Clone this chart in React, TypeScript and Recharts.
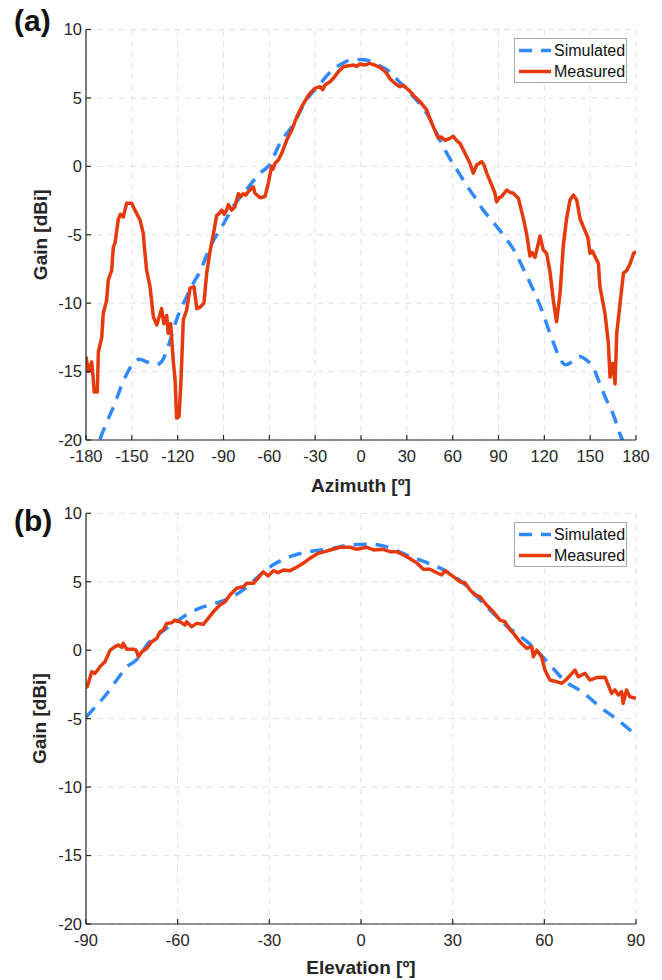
import { LineChart, Line, XAxis, YAxis, CartesianGrid, Legend, Label } from 'recharts';

const FONT = '"Liberation Sans", Arial, Helvetica, sans-serif';
const INK = '#262626';
const BLUE = '#3089ff';
const RED = '#e63a0c';
const GRID = '#dfe3e3';
const DASH = '13 9';

const seriesOrder = ['Simulated', 'Measured'];
const gainTicks = [-20, -15, -10, -5, 0, 5, 10];
const azimuthTicks = [-180, -150, -120, -90, -60, -30, 0, 30, 60, 90, 120, 150, 180];
const elevationTicks = [-90, -60, -30, 0, 30, 60, 90];

// (a) azimuth cut, [angle, gain dBi]
const azSimulated = [
  [-175, -21.5], [-171, -20], [-166, -18.6], [-161, -17.3], [-157, -16.1], [-153, -15.1],
  [-149, -14.4], [-145, -14.1], [-140, -14.3], [-134, -14.5], [-130, -14.2], [-127, -13.4],
  [-124, -12.4], [-121, -11.3], [-117, -10.2], [-114, -9.5], [-110, -8.6], [-105, -7.6],
  [-101, -6.5], [-97, -5.5], [-92, -4.6], [-88, -3.8], [-84, -3.0], [-75, -1.7], [-66, -0.5],
  [-60, 0.1], [-53, 1.7], [-44, 3.1], [-36, 4.8], [-27, 6.0], [-20, 6.9], [-14, 7.4],
  [-7, 7.75], [0, 7.8], [4, 7.75], [8, 7.6], [13, 7.3], [19, 6.9], [24, 6.3], [30, 5.6],
  [35, 5.0], [39, 4.5], [45, 3.5], [50, 2.3], [54, 1.4], [58, 0.6], [63, -0.3], [67, -1.0],
  [71, -1.7], [76, -2.5], [80, -3.2], [86, -4.0], [91, -4.7], [95, -5.3], [100, -6.1],
  [105, -7.2], [111, -8.6], [115, -9.6], [119, -10.7], [123, -12.0], [126, -12.9],
  [130, -14.0], [134, -14.5], [138, -14.3], [143, -13.9], [148, -14.2], [152, -14.7],
  [156, -15.8], [160, -16.9], [165, -18.1], [169, -19.4], [172, -20.3], [175, -21.5],
];

const azMeasured = [
  [-180, -13.9], [-178.5, -15.0], [-176.3, -14.3], [-175.5, -15.2], [-174.6, -16.5],
  [-172.6, -16.5], [-171.9, -13.55], [-169.7, -12.5], [-168.7, -10.75], [-166.5, -9.8],
  [-165.4, -8.3], [-163.2, -7.6], [-162.1, -5.9], [-161, -5.6], [-159.9, -4.7], [-158.9, -3.9],
  [-157.5, -3.5], [-155.6, -3.7], [-153.4, -2.7], [-150.1, -2.7], [-148, -3.2], [-144.7, -3.9],
  [-142.5, -4.9], [-141.8, -5.9], [-140.3, -7.6], [-138.1, -8.8], [-135.9, -11.0],
  [-133.7, -11.6], [-130.5, -10.4], [-129, -11.5], [-127.2, -10.9], [-126.2, -12.2],
  [-124.6, -11.5], [-122.9, -14.2], [-121.7, -15.6], [-120.7, -18.4], [-119.1, -18.3],
  [-117.8, -15.6], [-116.3, -11.2], [-114.1, -10.5], [-111.9, -8.9], [-109.3, -8.8],
  [-107.5, -10.4], [-105.4, -10.3], [-102.8, -10.0], [-101, -7.8], [-98.8, -6.2],
  [-96.7, -5.0], [-94.5, -3.6], [-92.5, -3.4], [-91.2, -3.2], [-89.5, -3.5], [-88, -3.2],
  [-86.8, -2.8], [-84.6, -3.2], [-82.5, -2.95], [-80.3, -2.0], [-78.5, -2.2], [-77, -2.0],
  [-75.5, -2.1], [-73.8, -1.86], [-70.5, -1.5], [-69.4, -1.97], [-66.1, -2.3], [-62.8, -2.2],
  [-60.7, -1.24], [-58.5, 0], [-57.5, -0.2], [-56.3, 0.22], [-54.1, 0.46], [-51.9, 0.95],
  [-48.6, 1.92], [-45.3, 2.65], [-42.1, 3.6], [-38.8, 4.36], [-35.6, 4.97], [-33.4, 5.34],
  [-30.1, 5.7], [-26.8, 5.82], [-25, 5.6], [-23.6, 5.94], [-20.3, 6.18], [-18.1, 6.43],
  [-15, 6.9], [-11.6, 7.28], [-8, 7.35], [-5, 7.4], [-3, 7.3], [-0.7, 7.48], [2.5, 7.4],
  [5.8, 7.53], [9, 7.4], [12.4, 7.24], [14.5, 7.05], [16.7, 6.8], [19, 6.4], [21.1, 6.18],
  [23, 6.0], [25.5, 5.82], [27.5, 5.95], [29.9, 5.7], [32, 5.5], [34.2, 5.2], [38.6, 4.72],
  [41, 4.4], [43, 4.12], [45, 3.5], [47.3, 2.9], [50.6, 2.05], [52.5, 2.15], [55, 1.9],
  [58.2, 2.05], [60.4, 2.2], [62.5, 1.9], [64.8, 1.68], [68.1, 0.95], [71.3, 0.22],
  [73.5, -0.5], [75.7, 0.1], [79, 0.34], [80.5, 0.1], [82.3, -0.5], [85.6, -1.37],
  [87.5, -1.9], [88.8, -2.6], [90.5, -2.3], [92.1, -2.2], [95.4, -1.73], [97.5, -1.9],
  [99.7, -1.97], [103, -2.34], [106.3, -3.8], [108.5, -5.0], [110.6, -6.55], [112, -6.3],
  [113.9, -6.65], [117.2, -5.1], [119.3, -6.1], [121.5, -6.36], [123.7, -7.7], [125.9, -9.8],
  [128, -11.35], [130.3, -9.3], [132.4, -5.8], [134.6, -3.8], [136.8, -2.46], [139, -2.1],
  [141.2, -2.46], [143.4, -3.85], [146.6, -4.7], [148.5, -5.2], [149.9, -6.36], [151.5, -6.2],
  [153.2, -6.6], [155.4, -7.1], [156.4, -8.8], [159.7, -10.75], [161.9, -12.9], [163, -15.4],
  [164.8, -14.4], [166.3, -15.9], [167.4, -12.2], [169.6, -10], [171.8, -7.8], [174, -7.6],
  [176.2, -7.1], [178.4, -6.36], [180, -6.25],
];

// (b) elevation cut, [angle, gain dBi]
const elSimulated = [
  [-90, -4.9], [-88, -4.4], [-84, -3.4], [-80, -2.2], [-77, -1.3], [-73, -0.6], [-70, 0.4],
  [-66, 1.2], [-61, 2.0], [-57, 2.6], [-53, 3.05], [-48, 3.4], [-43, 3.8], [-38, 4.5],
  [-33, 5.5], [-29, 6.2], [-23, 6.85], [-17, 7.2], [-10, 7.4], [-4, 7.68], [3, 7.75],
  [8, 7.58], [15, 6.95], [21, 6.45], [28, 5.75], [35, 4.6], [41, 3.2], [48, 1.7], [55, 0.5],
  [62, -1.1], [66, -2.1], [73, -3.15], [78, -4.1], [84, -5.1], [90, -6.2],
];

const elMeasured = [
  [-90, -2.7], [-89.6, -2.67], [-88.1, -1.57], [-87.1, -1.69], [-86, -1.4], [-85.4, -1.2],
  [-83.8, -0.84], [-82.1, 0.0], [-80.5, 0.26], [-79.4, 0.38], [-78.3, 0.2], [-77.8, 0.5],
  [-76.7, 0.07], [-74.5, 0.07], [-73.6, 0], [-72.8, -0.48], [-71.7, -0.11], [-70.1, 0.14],
  [-68.5, 0.62], [-66.8, 0.87], [-65.8, 1.35], [-64.7, 1.48], [-63.6, 1.96], [-62, 2.0],
  [-60.9, 2.2], [-59.3, 2.08], [-57.6, 1.84], [-57.1, 2.08], [-55.4, 1.72], [-53.8, 1.96],
  [-51.6, 1.89], [-50, 2.33], [-48.3, 2.81], [-46.2, 3.3], [-44.5, 3.54], [-42.9, 4.03],
  [-40.7, 4.52], [-38.5, 4.64], [-37.4, 4.89], [-35.2, 4.89], [-33.1, 5.42], [-32, 5.73],
  [-30.4, 5.42], [-28.7, 5.81], [-27.1, 5.66], [-25.4, 5.86], [-23.2, 5.81], [-21.1, 6.06],
  [-18.9, 6.35], [-16.7, 6.71], [-14, 7.08], [-11.8, 7.2], [-10.1, 7.32], [-6.9, 7.52],
  [-3.6, 7.52], [-1.4, 7.37], [1.9, 7.52], [4.1, 7.32], [7.3, 7.37], [9.5, 7.2], [11.7, 7.2],
  [15, 6.83], [18.2, 6.39], [20.4, 5.91], [22.6, 5.91], [24.8, 5.66], [26.4, 5.49],
  [27.5, 5.81], [30.2, 5.37], [32.4, 5.0], [34, 4.93], [35.7, 4.4], [37.3, 4.03], [38.9, 3.91],
  [41.1, 3.3], [43.3, 2.81], [45.5, 2.2], [47.1, 2.08], [48.8, 1.48], [49.9, 1.23], [52, 0.62],
  [54.2, 0.14], [55.9, 0.26], [56.4, -0.48], [57.5, 0.0], [59.1, -0.48], [60.2, -1.45],
  [61.8, -2.18], [64, -2.3], [65.7, -2.42], [67.3, -2.12], [70, -1.45], [71.1, -1.94],
  [73.3, -1.69], [74.9, -2.18], [77.1, -2.0], [79.9, -1.98], [80.9, -2.54], [82, -3.15],
  [83.1, -2.9], [84.2, -3.27], [85.3, -3.03], [85.8, -3.88], [86.9, -2.9], [88, -3.4],
  [90, -3.51],
];

const toPoints = (arr: number[][]) => arr.map(([x, y]) => ({ x, y }));

const tickStyle = { fill: INK, fontSize: 16.5, fontFamily: FONT };

function renderLegend(props: any) {
  const items = [...(props.payload || [])].sort(
    (a: any, b: any) => seriesOrder.indexOf(a.value) - seriesOrder.indexOf(b.value)
  );
  return (
    <div
      style={{
        width: 113,
        height: 45,
        boxSizing: 'border-box',
        border: '1px solid #a9a9a9',
        background: '#fff',
        paddingTop: 1,
        fontFamily: FONT,
        fontSize: 16,
        color: '#111',
      }}
    >
      {items.map((entry: any) => (
        <div key={entry.value} style={{ display: 'flex', alignItems: 'center', height: 21, lineHeight: '21px' }}>
          <svg width={38} height={21} style={{ display: 'block' }}>
            <line
              x1={4}
              x2={36}
              y1={10.5}
              y2={10.5}
              stroke={entry.color}
              strokeWidth={3.5}
              strokeDasharray={entry.payload?.strokeDasharray}
            />
          </svg>
          <span style={{ marginLeft: 1, whiteSpace: 'nowrap' }}>{entry.value}</span>
        </div>
      ))}
    </div>
  );
}

type PanelProps = {
  tag: string;
  top: number;
  height: number;
  marginTop: number;
  xAxisHeight: number;
  labelOffset: number;
  legendTop: number;
  xLabel: string;
  xTicks: number[];
  simulated: number[][];
  measured: number[][];
};

function PatternPanel(p: PanelProps) {
  const domain = [p.xTicks[0], p.xTicks[p.xTicks.length - 1]];
  return (
    <div style={{ position: 'absolute', left: 0, top: p.top, width: 662, height: p.height }}>
      <LineChart width={662} height={p.height} margin={{ top: p.marginTop, right: 26, bottom: 0, left: 0 }}>
        <CartesianGrid stroke={GRID} strokeDasharray="6 5" strokeWidth={1} />
        <XAxis
          dataKey="x"
          type="number"
          domain={domain}
          ticks={p.xTicks}
          interval={0}
          allowDataOverflow
          height={p.xAxisHeight}
          tick={tickStyle}
          tickSize={-5}
          tickMargin={15}
          stroke={INK}
          strokeWidth={1.2}
        >
          <Label
            content={(lp: any) => {
              const vb = lp.viewBox;
              return (
                <text
                  x={vb.x + vb.width / 2}
                  y={vb.y + vb.height - p.labelOffset}
                  textAnchor="middle"
                  fill={INK}
                  fontFamily={FONT}
                  fontWeight="bold"
                  fontSize={19}
                >
                  {p.xLabel}
                </text>
              );
            }}
          />
        </XAxis>
        <XAxis
          xAxisId="top"
          orientation="top"
          type="number"
          domain={domain}
          ticks={p.xTicks}
          interval={0}
          height={0}
          tick={false}
          tickSize={-5}
          stroke={INK}
          strokeWidth={1.2}
        />
        <YAxis
          type="number"
          domain={[-20, 10]}
          ticks={gainTicks}
          interval={0}
          allowDataOverflow
          width={86}
          tick={tickStyle}
          tickSize={-5}
          tickMargin={9}
          stroke={INK}
          strokeWidth={1.2}
        >
          <Label
            content={(lp: any) => {
              const vb = lp.viewBox;
              const cx = vb.x + 46.5;
              const cy = vb.y + vb.height / 2;
              return (
                <text
                  x={cx}
                  y={cy}
                  transform={`rotate(-90 ${cx} ${cy})`}
                  textAnchor="middle"
                  fill={INK}
                  fontFamily={FONT}
                  fontWeight="bold"
                  fontSize={19}
                >
                  Gain [dBi]
                </text>
              );
            }}
          />
        </YAxis>
        <YAxis
          yAxisId="right"
          orientation="right"
          type="number"
          domain={[-20, 10]}
          ticks={gainTicks}
          interval={0}
          width={0}
          tick={false}
          tickSize={-5}
          stroke={INK}
          strokeWidth={1.2}
        />
        <Legend
          layout="vertical"
          align="center"
          verticalAlign="middle"
          content={renderLegend}
          wrapperStyle={{ left: 514, top: p.legendTop, width: 113, height: 45 }}
        />
        <Line
          data={toPoints(p.simulated)}
          dataKey="y"
          name="Simulated"
          type="monotone"
          stroke={BLUE}
          strokeWidth={3.5}
          strokeDasharray={DASH}
          dot={false}
          activeDot={false}
          isAnimationActive={false}
        />
        <Line
          data={toPoints(p.measured)}
          dataKey="y"
          name="Measured"
          type="linear"
          stroke={RED}
          strokeWidth={3.5}
          strokeLinejoin="round"
          dot={false}
          activeDot={false}
          isAnimationActive={false}
        />
      </LineChart>
      <div
        style={{
          position: 'absolute',
          left: 14,
          top: 6,
          fontFamily: FONT,
          fontWeight: 'bold',
          fontSize: 30,
          lineHeight: '30px',
          color: '#111',
        }}
      >
        {p.tag}
      </div>
    </div>
  );
}

export default function App() {
  return (
    <div style={{ position: 'absolute', left: 0, top: 0, width: 662, height: 980, background: '#fff' }}>
      <PatternPanel
        tag="(a)"
        top={0}
        height={500}
        marginTop={29.5}
        xAxisHeight={60}
        labelOffset={8}
        legendTop={38.3}
        xLabel="Azimuth [º]"
        xTicks={azimuthTicks}
        simulated={azSimulated}
        measured={azMeasured}
      />
      <PatternPanel
        tag="(b)"
        top={500}
        height={480}
        marginTop={13.3}
        xAxisHeight={56}
        labelOffset={6}
        legendTop={22.3}
        xLabel="Elevation [º]"
        xTicks={elevationTicks}
        simulated={elSimulated}
        measured={elMeasured}
      />
    </div>
  );
}
